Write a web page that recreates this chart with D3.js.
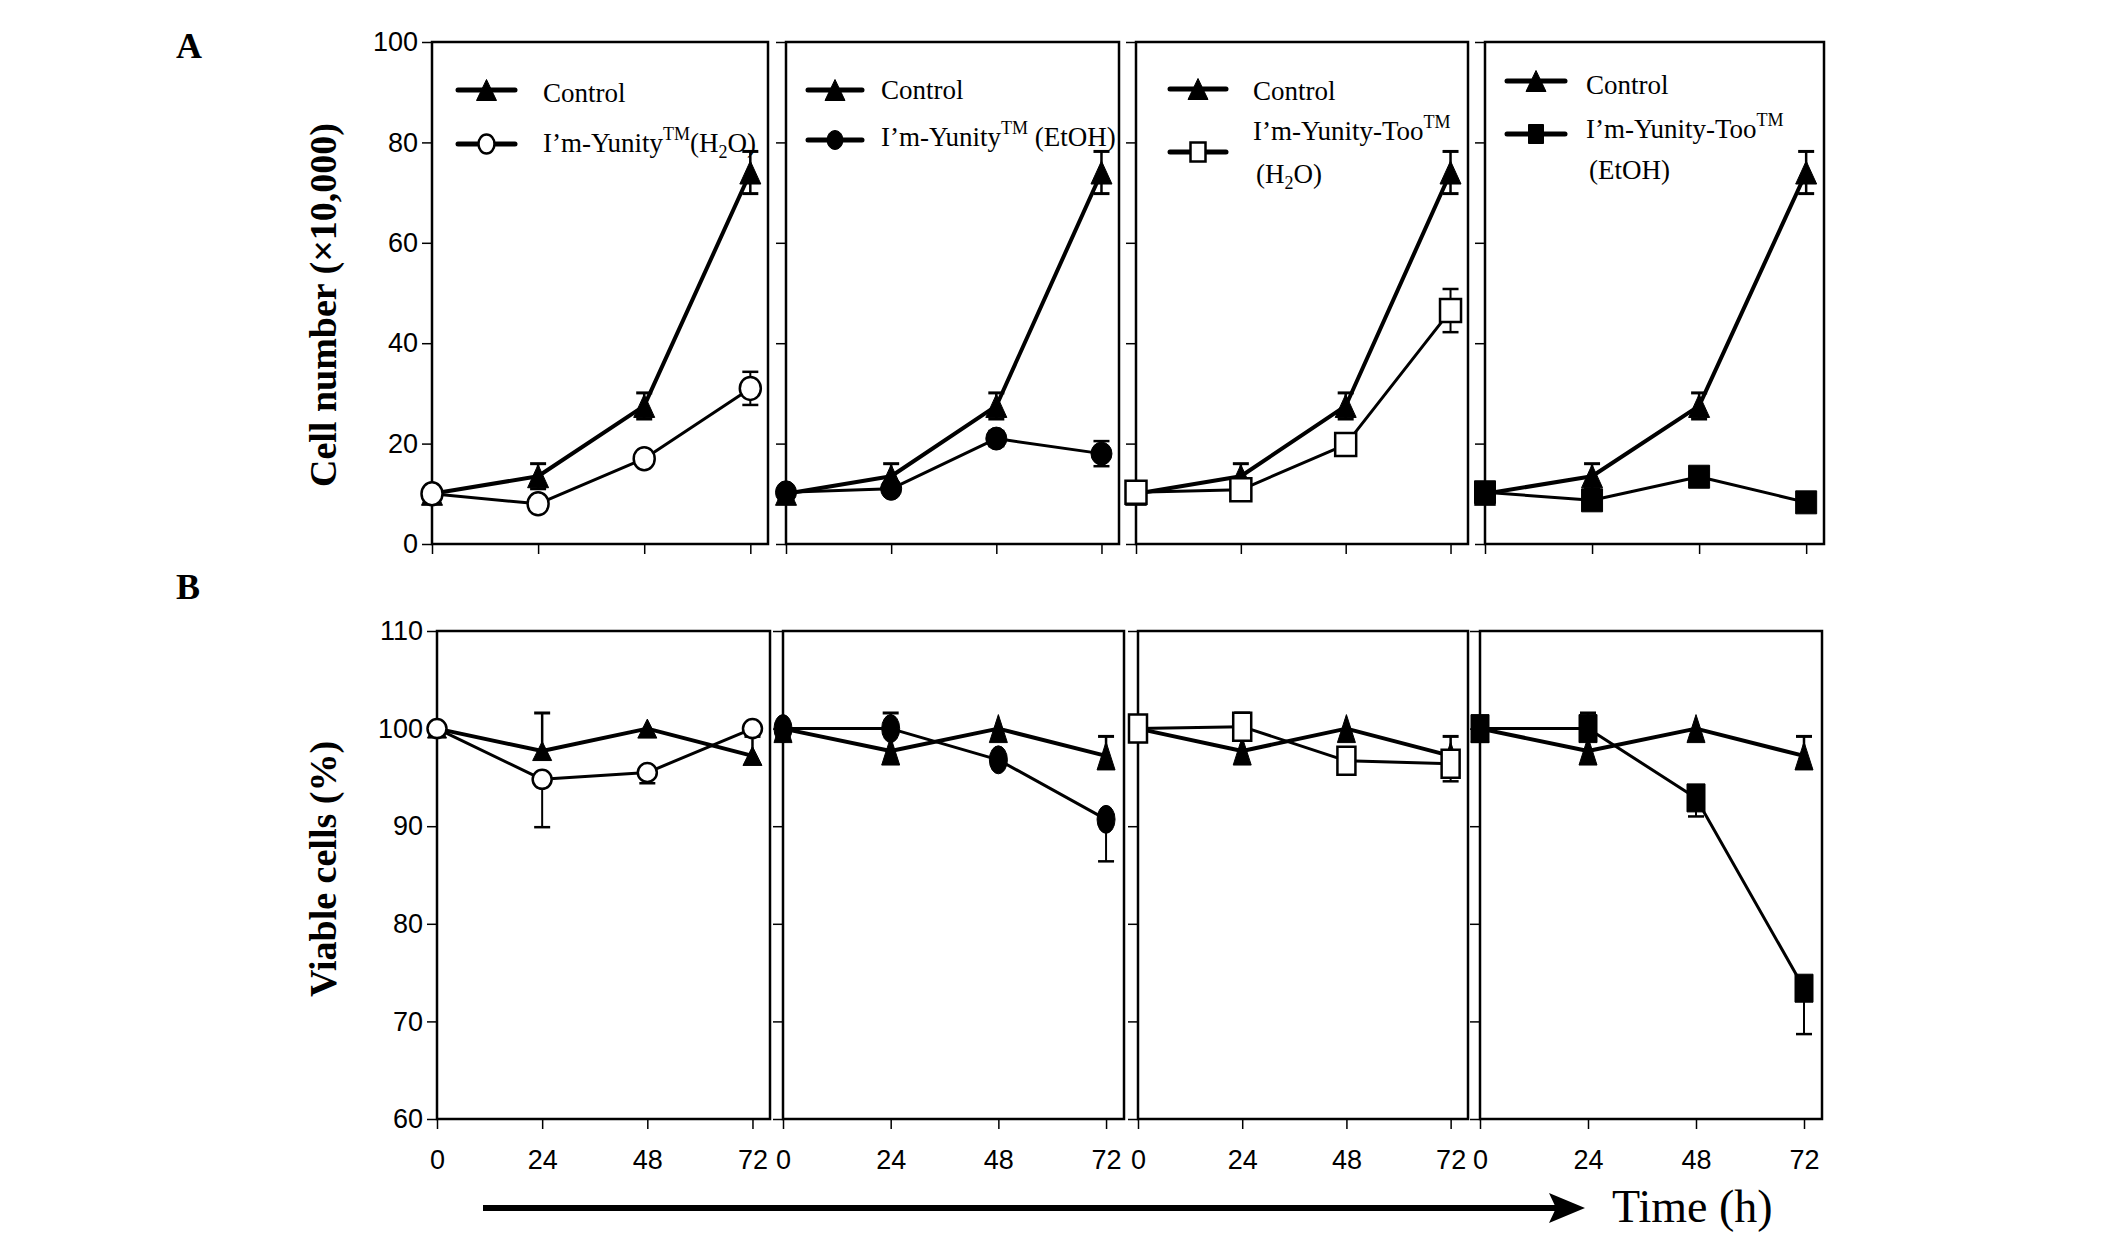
<html>
<head>
<script src="https://d3js.org/d3.v7.min.js"></script>
<style>
body { margin: 0; background: #fff; }
.tick text { font-family: "Liberation Sans", Arial, sans-serif; font-size: 27px; fill: #000; }
.leg { font-family: "Liberation Serif", "Times New Roman", serif; font-size: 27px; fill: #000; }
.ttl { font-family: "Liberation Serif", "Times New Roman", serif; font-weight: bold; fill: #000; }
</style>
</head>
<body>
<svg id="chart"></svg>
<script>
// time points and ticks
var hours = [0, 24, 48, 72];
var xTicks = [0, 24, 48, 72];
var yTicksA = [0, 20, 40, 60, 80, 100];
var yTicksB = [60, 70, 80, 90, 100, 110];

// A: cell number (x10,000)
var controlA    = [10, 13.5, 27.5, 74];
var controlAErr = [0.5, 2.5, 2.6, 4.2];
var yunH2OA     = [10, 8, 17, 31];
var yunH2OAErr  = [0.5, 0.8, 1, 3.3];
var yunEtOHA    = [10.3, 11, 21, 18];
var yunEtOHAErr = [0.5, 1, 1.5, 2.5];
var tooH2OA     = [10.3, 10.8, 19.8, 46.5];
var tooH2OAErr  = [0.5, 1, 1, 4.3];
var tooEtOHA    = [10.3, 8.7, 13.4, 8.3];
var tooEtOHAErr = [0.5, 1, 1, 1];

// B: viable cells (%)
var controlB    = [100, 97.7, 100, 97.2];
var controlBErr = [0, 3.9, 0, 2];
var yunH2OB     = [100, 94.8, 95.5, 100];
var yunH2OBErr  = [0, 4.9, 1.1, 0];
var yunEtOHB    = [100, 100, 96.8, 90.7];
var yunEtOHBErr = [0, 0.5, 0.5, 4.3];
var tooH2OB     = [100, 100.2, 96.7, 96.4];
var tooH2OBErr  = [0.3, 0.5, 0.5, 1.8];
var tooEtOHB    = [100, 100, 92.9, 73.4];
var tooEtOHBErr = [0.3, 0.5, 1.9, 4.7];

var labelYunH2O  = [[{t:"I\u2019m-Yunity"},{t:"TM",sup:true},{t:"(H"},{t:"2",sub:true},{t:"O)"}]];
var labelYunEtOH = [[{t:"I\u2019m-Yunity"},{t:"TM",sup:true},{t:" (EtOH)"}]];
var labelTooH2O  = [[{t:"I\u2019m-Yunity-Too"},{t:"TM",sup:true}],[{t:"(H"},{t:"2",sub:true},{t:"O)"}]];
var labelTooEtOH = [[{t:"I\u2019m-Yunity-Too"},{t:"TM",sup:true}],[{t:"(EtOH)"}]];

var treatments = [
  {shape:"circle", open:true,  a:yunH2OA,  aErr:yunH2OAErr,  b:yunH2OB,  bErr:yunH2OBErr,  label:labelYunH2O},
  {shape:"circle", open:false, a:yunEtOHA, aErr:yunEtOHAErr, b:yunEtOHB, bErr:yunEtOHBErr, label:labelYunEtOH},
  {shape:"square", open:true,  a:tooH2OA,  aErr:tooH2OAErr,  b:tooH2OB,  bErr:tooH2OBErr,  label:labelTooH2O},
  {shape:"square", open:false, a:tooEtOHA, aErr:tooEtOHAErr, b:tooEtOHB, bErr:tooEtOHBErr, label:labelTooEtOH}
];

// layout
var W = 2126, H = 1237;
var rowA = { top: 42, bottom: 544, lefts: [432, 786, 1136, 1485], rights: [768, 1119, 1468, 1824],
             ctrlDir: [1, 1], trDir: [1, 1] };
var rowB = { top: 631, bottom: 1119, lefts: [437, 783, 1138, 1480], rights: [770, 1124, 1468, 1822],
             ctrlDir: [1, 0], trDir: [0, 1] };
var markA = [[21, 23], [21, 23], [21, 23], [21, 23]];
var markB = [[19, 19], [18, 28], [18, 28], [18, 28]];
var legends = [
  { x0: 26, x1: 83, tx: 111, y: [48, 102], by: [60, 110], dy2: 0 },
  { x0: 22, x1: 76, tx: 95,  y: [48, 98],  by: [57, 104], dy2: 0 },
  { x0: 34, x1: 90, tx: 117, y: [47, 110], by: [58, 98],  dy2: 43 },
  { x0: 22, x1: 80, tx: 101, y: [39, 92],  by: [52, 96],  dy2: 41 }
];

var svg = d3.select("#chart").attr("width", W).attr("height", H);

function markerPath(shape, w, h) {
  if (shape == "triangle") {
    return "M0," + (-h/2) + "L" + (w/2) + "," + (h/2) + "L" + (-w/2) + "," + (h/2) + "Z";
  }
  if (shape == "square") {
    return "M" + (-w/2) + "," + (-h/2) + "h" + w + "v" + h + "h" + (-w) + "Z";
  }
  var rx = w/2, ry = h/2;
  return "M" + (-rx) + ",0A" + rx + "," + ry + " 0 1,0 " + rx + ",0A" + rx + "," + ry + " 0 1,0 " + (-rx) + ",0Z";
}

function drawMarker(g, shape, open, w, h, x, y) {
  g.append("path")
    .attr("d", markerPath(shape, w, h))
    .attr("transform", "translate(" + x + "," + y + ")")
    .attr("fill", open ? "#fff" : "#000")
    .attr("stroke", "#000")
    .attr("stroke-width", open ? 2.5 : 1);
}

// dir = [up, down]: which halves of the error bar are drawn
function drawSeries(g, x, y, vals, errs, lw, errW, dir) {
  var pts = hours.map(function(h, i) { return { h: h, v: vals[i], e: errs[i] }; });
  var line = d3.line().x(function(d) { return x(d.h); }).y(function(d) { return y(d.v); });
  g.append("path").datum(pts).attr("d", line)
    .attr("fill", "none").attr("stroke", "#000").attr("stroke-width", lw)
    .attr("stroke-linejoin", "round");
  pts.forEach(function(d) {
    if (d.e <= 0) return;
    var cx = x(d.h);
    var ends = [];
    if (dir[0]) ends.push(y(d.v + d.e));
    if (dir[1]) ends.push(y(d.v - d.e));
    ends.forEach(function(yy) {
      g.append("line").attr("x1", cx).attr("x2", cx).attr("y1", y(d.v)).attr("y2", yy)
        .attr("stroke", "#000").attr("stroke-width", errW);
      g.append("line").attr("x1", cx - 8).attr("x2", cx + 8).attr("y1", yy).attr("y2", yy)
        .attr("stroke", "#000").attr("stroke-width", errW + 0.5);
    });
  });
  return pts;
}

function richText(g, x, y, parts) {
  var t = g.append("text").attr("class", "leg").attr("x", x).attr("y", y);
  var shift = 0;
  parts.forEach(function(p) {
    var target = p.sup ? -12 : (p.sub ? 6 : 0);
    t.append("tspan").attr("dy", target - shift)
      .style("font-size", (p.sup || p.sub) ? "18px" : null)
      .text(p.t);
    shift = target;
  });
}

function drawPanel(row, i, yDomain, yTicks, control, controlErr, vals, errs, tr, msize, showXLabels, legend) {
  var left = row.lefts[i], right = row.rights[i];
  var x = d3.scaleLinear().domain([0, 76]).range([left, right]);
  var y = d3.scaleLinear().domain(yDomain).range([row.bottom, row.top]);
  var g = svg.append("g");

  var yAxis = d3.axisLeft(y).tickValues(yTicks).tickSize(10).tickPadding(4);
  if (i > 0) yAxis.tickFormat("");
  g.append("g").attr("transform", "translate(" + left + ",0)").call(yAxis)
    .call(function(a) { a.select(".domain").remove(); a.selectAll(".tick line").attr("stroke-width", 1.5); });

  var xAxis = d3.axisBottom(x).tickValues(xTicks).tickSize(10).tickPadding(21);
  if (!showXLabels) xAxis.tickFormat("");
  g.append("g").attr("transform", "translate(0," + row.bottom + ")").call(xAxis)
    .call(function(a) { a.select(".domain").remove(); a.selectAll(".tick line").attr("stroke-width", 1.5); });

  g.append("rect").attr("x", left).attr("y", row.top)
    .attr("width", right - left).attr("height", row.bottom - row.top)
    .attr("fill", "none").attr("stroke", "#000").attr("stroke-width", 2.5);

  var lines = g.append("g");
  var marks = g.append("g");
  var cPts = drawSeries(lines, x, y, control, controlErr, 4, 2.5, row.ctrlDir);
  var tPts = drawSeries(lines, x, y, vals, errs, 3, 2, row.trDir);
  cPts.forEach(function(d) { drawMarker(marks, "triangle", false, msize[0], msize[1], x(d.h), y(d.v)); });
  tPts.forEach(function(d) { drawMarker(marks, tr.shape, tr.open, msize[0], msize[1], x(d.h), y(d.v)); });

  if (legend) {
    var lg = g.append("g").attr("transform", "translate(" + left + "," + row.top + ")");
    var entries = [{ shape: "triangle", open: false, w: 20, h: 21, label: [[{t:"Control"}]] },
                   { shape: tr.shape, open: tr.open, w: tr.shape == "circle" ? 16 : 15, h: 19, label: tr.label }];
    entries.forEach(function(e, k) {
      lg.append("line").attr("x1", legend.x0).attr("x2", legend.x1)
        .attr("y1", legend.y[k]).attr("y2", legend.y[k])
        .attr("stroke", "#000").attr("stroke-width", 5).attr("stroke-linecap", "round");
      drawMarker(lg, e.shape, e.open, e.w, e.h, (legend.x0 + legend.x1) / 2, legend.y[k]);
      e.label.forEach(function(parts, j) {
        richText(lg, legend.tx + (j > 0 ? 3 : 0), legend.by[k] + j * legend.dy2, parts);
      });
    });
  }
}

treatments.forEach(function(tr, i) {
  drawPanel(rowA, i, [0, 100], yTicksA, controlA, controlAErr, tr.a, tr.aErr, tr, markA[i], false, legends[i]);
  drawPanel(rowB, i, [60, 110], yTicksB, controlB, controlBErr, tr.b, tr.bErr, tr, markB[i], true, null);
});

// panel letters and axis titles
svg.append("text").attr("class", "ttl").attr("x", 176).attr("y", 58).style("font-size", "36px").text("A");
svg.append("text").attr("class", "ttl").attr("x", 176).attr("y", 599).style("font-size", "36px").text("B");
svg.append("text").attr("class", "ttl").style("font-size", "38px").attr("text-anchor", "middle")
  .attr("transform", "translate(336,305) rotate(-90)").text("Cell number (\u00d710,000)");
svg.append("text").attr("class", "ttl").style("font-size", "38px").attr("text-anchor", "middle")
  .attr("transform", "translate(336,869) rotate(-90)").text("Viable cells (%)");

// time arrow
svg.append("line").attr("x1", 483).attr("x2", 1565).attr("y1", 1208).attr("y2", 1208)
  .attr("stroke", "#000").attr("stroke-width", 6);
svg.append("path").attr("d", "M1585,1208L1549,1193L1556,1208L1549,1223Z").attr("fill", "#000");
svg.append("text").attr("x", 1612).attr("y", 1222)
  .style("font-family", "'Liberation Serif', 'Times New Roman', serif").style("font-size", "46px")
  .text("Time (h)");
</script>
</body>
</html>
